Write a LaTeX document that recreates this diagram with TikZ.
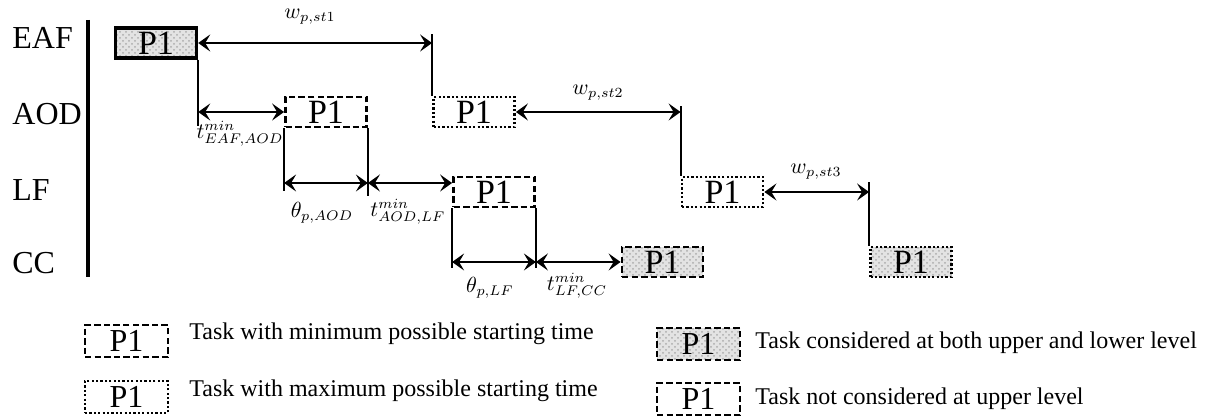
\documentclass[tikz,border=0pt]{standalone}
\usepackage{fontspec}
\setmainfont{Liberation Serif}
\DeclareMathSizes{10.95}{10.95}{7}{5}
\usetikzlibrary{arrows.meta,patterns,calc}
\begin{document}
\begin{tikzpicture}[x=0.5pt,y=-0.5pt,
  task/.style={rectangle, draw, line width=1.4pt, minimum width=40.5pt,
    minimum height=15pt, inner sep=0pt, font=\fontsize{17}{17}\selectfont},
  solidtask/.style={task, line width=1.7pt},
  mintask/.style={task, dash pattern=on 3.2pt off 1.6pt},
  maxtask/.style={task, dash pattern=on 1.1pt off 1.1pt},
  shaded/.style={preaction={fill=gray!22}, pattern=crosshatch dots, pattern color=gray!65},
  keybox/.style={minimum width=41.5pt, minimum height=16pt, font=\fontsize{16}{16}\selectfont},
  span/.style={{Stealth[length=6pt,width=8.5pt,inset=2.5pt]}-{Stealth[length=6pt,width=8.5pt,inset=2.5pt]}, line width=1pt},
  guide/.style={line width=1pt},
  rowlabel/.style={anchor=west, inner sep=0pt, font=\fontsize{16}{16}\selectfont},
  quantity/.style={inner sep=0pt, font=\fontsize{10.95}{13}\selectfont},
  keytext/.style={anchor=base west, inner sep=0pt, font=\fontsize{12}{13}\selectfont}
]
\useasboundingbox (0,0) rectangle (1217,416);

% stage names and time axis
\node[rowlabel] (eaf) at (12,38) {EAF};
\node[rowlabel] (aod) at (12,114) {AOD};
\node[rowlabel] (lf)  at (12,190) {LF};
\node[rowlabel] (cc)  at (12,263) {CC};
\coordinate (axtop) at (88,20);
\coordinate (axbot) at (88,277);
\draw[line width=1.6pt] (axtop) -- (axbot);

% tasks
\node[solidtask, shaded] (e1) at (156,43) {P1};
\node[mintask] (a1) at (326,112) {P1};
\node[maxtask] (a2) at (474,112) {P1};
\node[mintask] (l1) at (494,192) {P1};
\node[maxtask] (l2) at (722.5,192) {P1};
\node[mintask, shaded] (c1) at (662.5,262) {P1};
\node[maxtask, shaded] (c2) at (911,262) {P1};

% EAF -> AOD, minimum transfer time
\coordinate (e1a) at (e1.south east |- a1.west);
\coordinate (e1drop) at ($(e1a)+(0,14)$);
\draw[guide] (e1.south east) -- (e1drop);
\draw[span] (e1a) -- (a1.west);
\node[quantity] (tea) at (240,134) {$t^{min}_{EAF,AOD}$};

% waiting time at EAF
\coordinate (s1) at (a2.north west |- e1.east);
\coordinate (s1top) at ($(s1)+(0,-9)$);
\draw[guide] (a2.north west) -- (s1top);
\draw[span] (e1.east) -- (s1);
\node[quantity] (w1) at (310,17) {$w_{p,st1}$};

% AOD processing and transfer to LF
\coordinate (lfin) at ($(l1.west)+(0,-9)$);
\coordinate (a1l) at ($(a1.south west)+(0,63)$);
\coordinate (a1r) at ($(a1.south east)+(0,68)$);
\draw[guide] (a1.south west) -- (a1l);
\draw[guide] (a1.south east) -- (a1r);
\draw[span] (a1.south west |- lfin) -- (a1.south east |- lfin);
\draw[span] (a1.south east |- lfin) -- (lfin);
\node[quantity] (pa) at (322,213) {$\theta_{p,AOD}$};
\node[quantity] (tal) at (408,212) {$t^{min}_{AOD,LF}$};

% waiting time at AOD
\coordinate (s2) at (l2.north west |- a2.east);
\coordinate (s2top) at ($(s2)+(0,-6)$);
\draw[guide] (l2.north west) -- (s2top);
\draw[span] (a2.east) -- (s2);
\node[quantity] (w2) at (598,93) {$w_{p,st2}$};

% LF processing and transfer to CC
\coordinate (l1l) at ($(l1.south west)+(0,60)$);
\coordinate (l1r) at ($(l1.south east)+(0,60)$);
\draw[guide] (l1.south west) -- (l1l);
\draw[guide] (l1.south east) -- (l1r);
\draw[span] (l1.south west |- c1.west) -- (l1.south east |- c1.west);
\draw[span] (l1.south east |- c1.west) -- (c1.west);
\node[quantity] (pl) at (490,288) {$\theta_{p,LF}$};
\node[quantity] (tlc) at (577,286) {$t^{min}_{LF,CC}$};

% waiting time at LF
\coordinate (s3) at (c2.north west |- l2.east);
\coordinate (s3top) at ($(s3)+(0,-10)$);
\draw[guide] (c2.north west) -- (s3top);
\draw[span] (l2.east) -- (s3);
\node[quantity] (w3) at (816,172) {$w_{p,st3}$};

% key
\node[mintask, keybox] (k1) at (126.5,341) {P1};
\node[maxtask, keybox] (k2) at (126.5,397) {P1};
\node[mintask, shaded, keybox] (k3) at (698.5,344) {P1};
\node[mintask, keybox] (k4) at (698.5,399) {P1};
\node[keytext] (k1t) at (189,340) {Task with minimum possible starting time};
\node[keytext] (k2t) at (189,397) {Task with maximum possible starting time};
\node[keytext] (k3t) at (755,349) {Task considered at both upper and lower level};
\node[keytext] (k4t) at (755,405) {Task not considered at upper level};
\end{tikzpicture}
\end{document}
